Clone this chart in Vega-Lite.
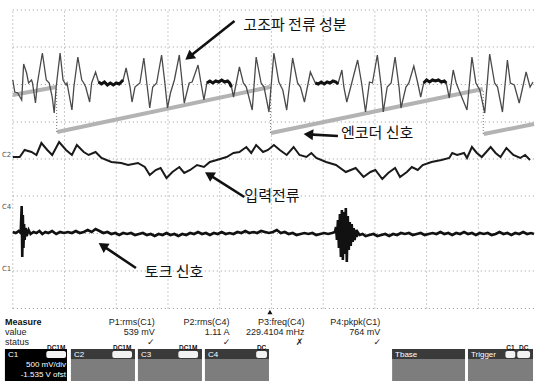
{
"$schema": "https://vega.github.io/schema/vega-lite/v6.json",
"width": 542, "height": 383, "padding": 0,
"autosize": {"type": "fit", "contains": "padding"},
"background": "white",
"config": {"view": {"stroke": null}},
"datasets": {
"grid_v": [{"t":0,"v":-18.5,"v2":280},{"t":52.5,"v":-18.5,"v2":280},{"t":105,"v":-18.5,"v2":280},{"t":157.5,"v":-18.5,"v2":280},{"t":210,"v":-18.5,"v2":280},{"t":262.5,"v":-18.5,"v2":280},{"t":315,"v":-18.5,"v2":280},{"t":367.5,"v":-18.5,"v2":280},{"t":420,"v":-18.5,"v2":280},{"t":472.5,"v":-18.5,"v2":280}],
"grid_h": [{"v":280,"t":0,"t2":529},{"v":243,"t":0,"t2":529},{"v":205.5,"t":0,"t2":529},{"v":168,"t":0,"t2":529},{"v":131,"t":0,"t2":529},{"v":94,"t":0,"t2":529},{"v":56.5,"t":0,"t2":529},{"v":19,"t":0,"t2":529},{"v":-18.5,"t":0,"t2":529}],
"enc": [{"seg":"A","t":0,"v":195},{"seg":"A","t":44,"v":203},{"seg":"B","t":45,"v":158},{"seg":"B","t":261,"v":203},{"seg":"C","t":262,"v":157},{"seg":"C","t":477,"v":201},{"seg":"D","t":478,"v":156},{"seg":"D","t":529,"v":166}],
"drops": [{"t":44.5,"v":158,"v2":203},{"t":261.5,"v":157,"v2":203},{"t":477.5,"v":156,"v2":201}],
"c1": [{"t":0,"v":210},{"t":2,"v":198},{"t":5,"v":197},{"t":9,"v":190},{"t":11,"v":226},{"t":14,"v":217},{"t":16,"v":207},{"t":19,"v":210},{"t":20,"v":207},{"t":23,"v":187},{"t":25,"v":207},{"t":30,"v":237},{"t":34,"v":210},{"t":37,"v":207},{"t":40,"v":193},{"t":42,"v":177},{"t":44,"v":203},{"t":48,"v":237},{"t":51,"v":210},{"t":54,"v":205},{"t":55,"v":207},{"t":60,"v":180},{"t":62,"v":203},{"t":66,"v":233},{"t":70,"v":210},{"t":72,"v":207},{"t":74,"v":203},{"t":78,"v":188},{"t":80,"v":207},{"t":84,"v":218},{"t":87,"v":208},{"t":90,"v":206},{"t":93,"v":208},{"t":96,"v":205},{"t":99,"v":207},{"t":102,"v":205},{"t":105,"v":207},{"t":108,"v":206},{"t":110,"v":208},{"t":112,"v":210},{"t":115,"v":222},{"t":119,"v":203},{"t":121,"v":188},{"t":124,"v":203},{"t":129,"v":207},{"t":133,"v":232},{"t":136,"v":207},{"t":139,"v":182},{"t":142,"v":203},{"t":146,"v":207},{"t":151,"v":235},{"t":154,"v":210},{"t":157,"v":182},{"t":160,"v":197},{"t":164,"v":210},{"t":169,"v":235},{"t":174,"v":187},{"t":179,"v":207},{"t":182,"v":208},{"t":188,"v":225},{"t":191,"v":207},{"t":194,"v":190},{"t":197,"v":207},{"t":200,"v":209},{"t":203,"v":207},{"t":206,"v":209},{"t":209,"v":208},{"t":212,"v":210},{"t":215,"v":208},{"t":218,"v":209},{"t":220,"v":207},{"t":222,"v":203},{"t":224,"v":193},{"t":230,"v":223},{"t":234,"v":207},{"t":237,"v":203},{"t":243,"v":180},{"t":247,"v":233},{"t":252,"v":207},{"t":255,"v":203},{"t":260,"v":178},{"t":265,"v":237},{"t":270,"v":208},{"t":274,"v":200},{"t":278,"v":180},{"t":284,"v":232},{"t":289,"v":207},{"t":292,"v":203},{"t":296,"v":188},{"t":302,"v":218},{"t":307,"v":207},{"t":310,"v":206},{"t":313,"v":208},{"t":316,"v":206},{"t":319,"v":208},{"t":322,"v":207},{"t":325,"v":209},{"t":328,"v":208},{"t":330,"v":206},{"t":334,"v":220},{"t":336,"v":203},{"t":339,"v":188},{"t":344,"v":207},{"t":350,"v":230},{"t":354,"v":207},{"t":358,"v":178},{"t":362,"v":208},{"t":365,"v":207},{"t":370,"v":235},{"t":374,"v":203},{"t":376,"v":178},{"t":380,"v":203},{"t":384,"v":207},{"t":388,"v":233},{"t":392,"v":203},{"t":394,"v":182},{"t":399,"v":203},{"t":402,"v":207},{"t":407,"v":224},{"t":411,"v":207},{"t":414,"v":193},{"t":417,"v":207},{"t":420,"v":210},{"t":423,"v":208},{"t":426,"v":210},{"t":429,"v":209},{"t":432,"v":210},{"t":435,"v":208},{"t":438,"v":209},{"t":440,"v":207},{"t":443,"v":192},{"t":447,"v":220},{"t":450,"v":207},{"t":454,"v":197},{"t":461,"v":180},{"t":466,"v":233},{"t":470,"v":207},{"t":474,"v":200},{"t":479,"v":177},{"t":484,"v":236},{"t":489,"v":207},{"t":492,"v":203},{"t":497,"v":178},{"t":502,"v":230},{"t":505,"v":207},{"t":509,"v":205},{"t":514,"v":187},{"t":521,"v":218},{"t":525,"v":203},{"t":528,"v":208}],
"c2": [{"t":0,"v":133},{"t":7,"v":133},{"t":12,"v":140},{"t":19,"v":138},{"t":24,"v":135},{"t":29,"v":147},{"t":35,"v":140},{"t":40,"v":135},{"t":47,"v":148},{"t":54,"v":140},{"t":60,"v":135},{"t":65,"v":145},{"t":72,"v":138},{"t":77,"v":135},{"t":84,"v":138},{"t":90,"v":132},{"t":100,"v":128},{"t":110,"v":127},{"t":117,"v":125},{"t":127,"v":127},{"t":134,"v":123},{"t":139,"v":115},{"t":145,"v":120},{"t":150,"v":122},{"t":156,"v":112},{"t":162,"v":118},{"t":169,"v":123},{"t":174,"v":117},{"t":180,"v":120},{"t":187,"v":125},{"t":194,"v":123},{"t":200,"v":128},{"t":207,"v":130},{"t":217,"v":133},{"t":224,"v":137},{"t":230,"v":138},{"t":237,"v":143},{"t":242,"v":137},{"t":247,"v":145},{"t":254,"v":138},{"t":259,"v":140},{"t":265,"v":145},{"t":271,"v":140},{"t":278,"v":135},{"t":285,"v":143},{"t":291,"v":135},{"t":298,"v":133},{"t":303,"v":137},{"t":308,"v":132},{"t":318,"v":128},{"t":328,"v":125},{"t":338,"v":118},{"t":343,"v":120},{"t":348,"v":122},{"t":356,"v":113},{"t":363,"v":118},{"t":368,"v":120},{"t":375,"v":111},{"t":381,"v":117},{"t":388,"v":122},{"t":393,"v":113},{"t":400,"v":118},{"t":405,"v":123},{"t":411,"v":120},{"t":416,"v":125},{"t":425,"v":128},{"t":435,"v":130},{"t":443,"v":132},{"t":446,"v":137},{"t":451,"v":135},{"t":458,"v":137},{"t":461,"v":132},{"t":466,"v":143},{"t":471,"v":137},{"t":476,"v":133},{"t":485,"v":143},{"t":490,"v":137},{"t":495,"v":133},{"t":501,"v":142},{"t":508,"v":135},{"t":515,"v":132},{"t":520,"v":135},{"t":525,"v":130}],
"c4": [{"t":0,"v":58},{"t":3,"v":57},{"t":6,"v":59},{"t":8,"v":57},{"t":9,"v":84},{"t":9.6,"v":33},{"t":10.2,"v":75},{"t":10.8,"v":42},{"t":11.4,"v":66},{"t":12,"v":50},{"t":13,"v":62},{"t":14,"v":54},{"t":16,"v":60},{"t":18,"v":56},{"t":21,"v":58},{"t":24,"v":57},{"t":27,"v":59},{"t":30,"v":56},{"t":33,"v":58},{"t":36,"v":57},{"t":40,"v":59},{"t":44,"v":56},{"t":48,"v":58},{"t":52,"v":57},{"t":56,"v":58},{"t":60,"v":57},{"t":64,"v":59},{"t":68,"v":57},{"t":72,"v":58},{"t":76,"v":60},{"t":80,"v":58},{"t":84,"v":61},{"t":88,"v":59},{"t":92,"v":57},{"t":96,"v":58},{"t":100,"v":56},{"t":104,"v":57},{"t":108,"v":55},{"t":112,"v":57},{"t":116,"v":56},{"t":120,"v":57},{"t":124,"v":55},{"t":128,"v":56},{"t":132,"v":57},{"t":136,"v":55},{"t":140,"v":56},{"t":144,"v":54},{"t":148,"v":56},{"t":152,"v":55},{"t":156,"v":57},{"t":160,"v":55},{"t":164,"v":56},{"t":168,"v":54},{"t":172,"v":56},{"t":176,"v":55},{"t":180,"v":57},{"t":184,"v":56},{"t":188,"v":58},{"t":192,"v":56},{"t":196,"v":57},{"t":200,"v":55},{"t":204,"v":57},{"t":208,"v":56},{"t":212,"v":58},{"t":216,"v":56},{"t":220,"v":57},{"t":224,"v":56},{"t":228,"v":58},{"t":232,"v":57},{"t":236,"v":59},{"t":240,"v":57},{"t":244,"v":58},{"t":248,"v":57},{"t":252,"v":59},{"t":256,"v":58},{"t":260,"v":57},{"t":264,"v":58},{"t":268,"v":60},{"t":272,"v":57},{"t":276,"v":58},{"t":280,"v":56},{"t":284,"v":57},{"t":288,"v":55},{"t":292,"v":56},{"t":296,"v":57},{"t":300,"v":56},{"t":304,"v":57},{"t":308,"v":55},{"t":312,"v":56},{"t":316,"v":57},{"t":320,"v":56},{"t":324,"v":57},{"t":327,"v":58},{"t":328,"v":63},{"t":329,"v":50},{"t":330,"v":70},{"t":331,"v":42},{"t":332,"v":76},{"t":333,"v":33},{"t":334,"v":80},{"t":335,"v":30},{"t":336,"v":78},{"t":337,"v":36},{"t":338,"v":82},{"t":339,"v":28},{"t":340,"v":74},{"t":341,"v":40},{"t":342,"v":68},{"t":343,"v":44},{"t":344,"v":66},{"t":345,"v":48},{"t":346,"v":62},{"t":347,"v":50},{"t":348,"v":60},{"t":349,"v":53},{"t":350,"v":58},{"t":352,"v":55},{"t":355,"v":56},{"t":358,"v":54},{"t":362,"v":55},{"t":366,"v":56},{"t":370,"v":54},{"t":374,"v":55},{"t":378,"v":56},{"t":382,"v":54},{"t":386,"v":56},{"t":390,"v":55},{"t":394,"v":57},{"t":398,"v":56},{"t":402,"v":57},{"t":406,"v":55},{"t":410,"v":56},{"t":414,"v":57},{"t":418,"v":55},{"t":422,"v":56},{"t":426,"v":57},{"t":430,"v":56},{"t":434,"v":58},{"t":438,"v":56},{"t":442,"v":57},{"t":446,"v":55},{"t":450,"v":57},{"t":454,"v":56},{"t":458,"v":58},{"t":462,"v":56},{"t":466,"v":57},{"t":470,"v":55},{"t":474,"v":57},{"t":478,"v":56},{"t":482,"v":57},{"t":486,"v":55},{"t":490,"v":56},{"t":494,"v":58},{"t":498,"v":56},{"t":502,"v":57},{"t":506,"v":55},{"t":510,"v":57},{"t":514,"v":56},{"t":518,"v":58},{"t":522,"v":56},{"t":526,"v":57},{"t":529,"v":56}],
"chlabels": [{"label":"C2","t":-11,"v":135},{"label":"C4","t":-11,"v":83},{"label":"C1","t":-11,"v":21}],
"arrows": [{"id":"a1","t":225,"v":269,"t2":178.9,"v2":233.1},{"id":"a2","t":330,"v":154,"t2":300,"v2":155.6},{"id":"a3","t":235,"v":93,"t2":199.2,"v2":115.35},{"id":"a4","t":125,"v":22,"t2":91.2,"v2":44.3}],
"notes": [{"label":"고조파 전류 성분","t":234,"v":265},{"label":"엔코더 신호","t":333,"v":157},{"label":"입력전류","t":235,"v":94},{"label":"토크 신호","t":134,"v":18}],
"trig": [{"t":261,"v":-22}],
"measure": [{"label":"Measure","t":-8,"v":-32}],
"rowlabels": [{"label":"value","t":-8,"v":-42},{"label":"status","t":-8,"v":-52}],
"cols": [{"label":"P1:rms(C1)","t":144,"v":-32},{"label":"539 mV","t":144,"v":-42},{"label":"P2:rms(C4)","t":220,"v":-32},{"label":"1.11 A","t":220,"v":-42},{"label":"P3:freq(C4)","t":296,"v":-32},{"label":"229.4104 mHz","t":296,"v":-42},{"label":"P4:pkpk(C1)","t":373,"v":-32},{"label":"764 mV","t":373,"v":-42}],
"status": [{"label":"✓","t":140,"v":-52},{"label":"✓","t":217,"v":-52},{"label":"✗","t":291,"v":-52},{"label":"✓","t":370,"v":-52}],
"box_c1": [{"t":-8,"t2":55,"v":-59,"v2":-91}],
"box_gray": [{"t":59,"t2":124,"v":-59,"v2":-91},{"t":127,"t2":192,"v":-59,"v2":-91},{"t":195,"t2":260,"v":-59,"v2":-91},{"t":385,"t2":459,"v":-59,"v2":-91},{"t":462,"t2":528,"v":-59,"v2":-91}],
"box_head": [{"t":59,"t2":124,"v":-59,"v2":-69},{"t":127,"t2":192,"v":-59,"v2":-69},{"t":195,"t2":260,"v":-59,"v2":-69},{"t":385,"t2":459,"v":-59,"v2":-69},{"t":462,"t2":528,"v":-59,"v2":-69}],
"badges": [{"label":"DC1M","t":34,"t2":54,"v":-61,"v2":-68},{"label":"DC1M","t":101,"t2":121,"v":-61,"v2":-68},{"label":"DC1M","t":168,"t2":188,"v":-61,"v2":-68},{"label":"DC","t":247,"t2":258,"v":-61,"v2":-68},{"label":"C1","t":500,"t2":510,"v":-61,"v2":-68},{"label":"DC","t":512,"t2":525,"v":-61,"v2":-68}],
"boxtext_l": [{"label":"C1","t":-5,"v":-64.5},{"label":"C2","t":62,"v":-64.5},{"label":"C3","t":130,"v":-64.5},{"label":"C4","t":198,"v":-64.5},{"label":"Tbase","t":388,"v":-64.5},{"label":"Trigger","t":465,"v":-64.5}],
"boxtext_r": [{"label":"500 mV/div","t":54,"v":-75},{"label":"-1.535 V ofst","t":54,"v":-85}]
},
"layer": [
{"data":{"name":"grid_v"},"mark":{"type":"rule","color":"#999999","strokeDash":[1,3],"strokeWidth":1},
 "encoding":{"x":{"field":"t","type":"quantitative","scale":{"domain":[-13,529],"nice":false,"zero":false},"axis":null},"y":{"field":"v","type":"quantitative","scale":{"domain":[-93,290],"nice":false,"zero":false},"axis":null},"y2":{"field":"v2"}}},
{"data":{"name":"grid_h"},"mark":{"type":"rule","color":"#999999","strokeDash":[1,3],"strokeWidth":1},
 "encoding":{"y":{"field":"v","type":"quantitative","scale":{"domain":[-93,290],"nice":false,"zero":false},"axis":null},"x":{"field":"t","type":"quantitative","scale":{"domain":[-13,529],"nice":false,"zero":false},"axis":null},"x2":{"field":"t2"}}},
{"data":{"name":"enc"},"mark":{"type":"line","color":"#b3b3b3","strokeWidth":4},
 "encoding":{"x":{"field":"t","type":"quantitative","scale":{"domain":[-13,529],"nice":false,"zero":false},"axis":null},"y":{"field":"v","type":"quantitative","scale":{"domain":[-93,290],"nice":false,"zero":false},"axis":null},"detail":{"field":"seg"}}},
{"data":{"name":"drops"},"mark":{"type":"rule","color":"#777777","strokeDash":[1,2],"strokeWidth":1},
 "encoding":{"x":{"field":"t","type":"quantitative","scale":{"domain":[-13,529],"nice":false,"zero":false},"axis":null},"y":{"field":"v","type":"quantitative","scale":{"domain":[-93,290],"nice":false,"zero":false},"axis":null},"y2":{"field":"v2"}}},
{"data":{"name":"c1"},"mark":{"type":"line","color":"#4a4a4a","strokeWidth":1.3},
 "encoding":{"x":{"field":"t","type":"quantitative","scale":{"domain":[-13,529],"nice":false,"zero":false},"axis":null},"y":{"field":"v","type":"quantitative","scale":{"domain":[-93,290],"nice":false,"zero":false},"axis":null}}},
{"data":{"name":"c1"},"transform":[{"filter":"datum.t >= 87 && datum.t <= 112"}],"mark":{"type":"line","color":"#111111","strokeWidth":3},
 "encoding":{"x":{"field":"t","type":"quantitative","scale":{"domain":[-13,529],"nice":false,"zero":false},"axis":null},"y":{"field":"v","type":"quantitative","scale":{"domain":[-93,290],"nice":false,"zero":false},"axis":null}}},
{"data":{"name":"c1"},"transform":[{"filter":"datum.t >= 197 && datum.t <= 222"}],"mark":{"type":"line","color":"#111111","strokeWidth":3},
 "encoding":{"x":{"field":"t","type":"quantitative","scale":{"domain":[-13,529],"nice":false,"zero":false},"axis":null},"y":{"field":"v","type":"quantitative","scale":{"domain":[-93,290],"nice":false,"zero":false},"axis":null}}},
{"data":{"name":"c1"},"transform":[{"filter":"datum.t >= 307 && datum.t <= 330"}],"mark":{"type":"line","color":"#111111","strokeWidth":3},
 "encoding":{"x":{"field":"t","type":"quantitative","scale":{"domain":[-13,529],"nice":false,"zero":false},"axis":null},"y":{"field":"v","type":"quantitative","scale":{"domain":[-93,290],"nice":false,"zero":false},"axis":null}}},
{"data":{"name":"c1"},"transform":[{"filter":"datum.t >= 417 && datum.t <= 440"}],"mark":{"type":"line","color":"#111111","strokeWidth":3},
 "encoding":{"x":{"field":"t","type":"quantitative","scale":{"domain":[-13,529],"nice":false,"zero":false},"axis":null},"y":{"field":"v","type":"quantitative","scale":{"domain":[-93,290],"nice":false,"zero":false},"axis":null}}},
{"data":{"name":"c2"},"mark":{"type":"line","color":"#1a1a1a","strokeWidth":2},
 "encoding":{"x":{"field":"t","type":"quantitative","scale":{"domain":[-13,529],"nice":false,"zero":false},"axis":null},"y":{"field":"v","type":"quantitative","scale":{"domain":[-93,290],"nice":false,"zero":false},"axis":null}}},
{"data":{"name":"c4"},"mark":{"type":"line","color":"#111111","strokeWidth":2.6},
 "encoding":{"x":{"field":"t","type":"quantitative","scale":{"domain":[-13,529],"nice":false,"zero":false},"axis":null},"y":{"field":"v","type":"quantitative","scale":{"domain":[-93,290],"nice":false,"zero":false},"axis":null}}},
{"data":{"name":"chlabels"},"mark":{"type":"text","font":"DejaVu Sans","fontSize":7,"color":"#555555","align":"left","baseline":"middle"},
 "encoding":{"x":{"field":"t","type":"quantitative","scale":{"domain":[-13,529],"nice":false,"zero":false},"axis":null},"y":{"field":"v","type":"quantitative","scale":{"domain":[-93,290],"nice":false,"zero":false},"axis":null},"text":{"field":"label"}}},
{"data":{"name":"arrows"},"mark":{"type":"rule","color":"#111111","strokeWidth":2.6},
 "encoding":{"x":{"field":"t","type":"quantitative","scale":{"domain":[-13,529],"nice":false,"zero":false},"axis":null},"y":{"field":"v","type":"quantitative","scale":{"domain":[-93,290],"nice":false,"zero":false},"axis":null},"x2":{"field":"t2"},"y2":{"field":"v2"}}},
{"data":{"name":"arrows"},"transform":[{"filter":"datum.id == 'a1'"}],"mark":{"type":"point","shape":"triangle-up","filled":true,"color":"#111111","size":120,"angle":232,"opacity":1},
 "encoding":{"x":{"field":"t2","type":"quantitative","scale":{"domain":[-13,529],"nice":false,"zero":false},"axis":null},"y":{"field":"v2","type":"quantitative","scale":{"domain":[-93,290],"nice":false,"zero":false},"axis":null}}},
{"data":{"name":"arrows"},"transform":[{"filter":"datum.id == 'a2'"}],"mark":{"type":"point","shape":"triangle-up","filled":true,"color":"#111111","size":120,"angle":275,"opacity":1},
 "encoding":{"x":{"field":"t2","type":"quantitative","scale":{"domain":[-13,529],"nice":false,"zero":false},"axis":null},"y":{"field":"v2","type":"quantitative","scale":{"domain":[-93,290],"nice":false,"zero":false},"axis":null}}},
{"data":{"name":"arrows"},"transform":[{"filter":"datum.id == 'a3'"}],"mark":{"type":"point","shape":"triangle-up","filled":true,"color":"#111111","size":120,"angle":302,"opacity":1},
 "encoding":{"x":{"field":"t2","type":"quantitative","scale":{"domain":[-13,529],"nice":false,"zero":false},"axis":null},"y":{"field":"v2","type":"quantitative","scale":{"domain":[-93,290],"nice":false,"zero":false},"axis":null}}},
{"data":{"name":"arrows"},"transform":[{"filter":"datum.id == 'a4'"}],"mark":{"type":"point","shape":"triangle-up","filled":true,"color":"#111111","size":120,"angle":303,"opacity":1},
 "encoding":{"x":{"field":"t2","type":"quantitative","scale":{"domain":[-13,529],"nice":false,"zero":false},"axis":null},"y":{"field":"v2","type":"quantitative","scale":{"domain":[-93,290],"nice":false,"zero":false},"axis":null}}},
{"data":{"name":"notes"},"mark":{"type":"text","font":"Noto Sans CJK KR","fontSize":15,"color":"#111111","align":"left","baseline":"middle"},
 "encoding":{"x":{"field":"t","type":"quantitative","scale":{"domain":[-13,529],"nice":false,"zero":false},"axis":null},"y":{"field":"v","type":"quantitative","scale":{"domain":[-93,290],"nice":false,"zero":false},"axis":null},"text":{"field":"label"}}},
{"data":{"name":"trig"},"mark":{"type":"point","shape":"triangle-up","filled":true,"color":"#111111","size":25,"opacity":1},
 "encoding":{"x":{"field":"t","type":"quantitative","scale":{"domain":[-13,529],"nice":false,"zero":false},"axis":null},"y":{"field":"v","type":"quantitative","scale":{"domain":[-93,290],"nice":false,"zero":false},"axis":null}}},
{"data":{"name":"measure"},"mark":{"type":"text","font":"Liberation Sans","fontSize":9,"fontWeight":"bold","color":"#111111","align":"left","baseline":"middle"},
 "encoding":{"x":{"field":"t","type":"quantitative","scale":{"domain":[-13,529],"nice":false,"zero":false},"axis":null},"y":{"field":"v","type":"quantitative","scale":{"domain":[-93,290],"nice":false,"zero":false},"axis":null},"text":{"field":"label"}}},
{"data":{"name":"rowlabels"},"mark":{"type":"text","font":"Liberation Sans","fontSize":9,"color":"#222222","align":"left","baseline":"middle"},
 "encoding":{"x":{"field":"t","type":"quantitative","scale":{"domain":[-13,529],"nice":false,"zero":false},"axis":null},"y":{"field":"v","type":"quantitative","scale":{"domain":[-93,290],"nice":false,"zero":false},"axis":null},"text":{"field":"label"}}},
{"data":{"name":"cols"},"mark":{"type":"text","font":"Liberation Sans","fontSize":9,"color":"#222222","align":"right","baseline":"middle"},
 "encoding":{"x":{"field":"t","type":"quantitative","scale":{"domain":[-13,529],"nice":false,"zero":false},"axis":null},"y":{"field":"v","type":"quantitative","scale":{"domain":[-93,290],"nice":false,"zero":false},"axis":null},"text":{"field":"label"}}},
{"data":{"name":"status"},"mark":{"type":"text","font":"DejaVu Sans","fontSize":9,"fontWeight":"bold","color":"#222222","align":"center","baseline":"middle"},
 "encoding":{"x":{"field":"t","type":"quantitative","scale":{"domain":[-13,529],"nice":false,"zero":false},"axis":null},"y":{"field":"v","type":"quantitative","scale":{"domain":[-93,290],"nice":false,"zero":false},"axis":null},"text":{"field":"label"}}},
{"data":{"name":"box_c1"},"mark":{"type":"rect","color":"#000000"},
 "encoding":{"x":{"field":"t","type":"quantitative","scale":{"domain":[-13,529],"nice":false,"zero":false},"axis":null},"x2":{"field":"t2"},"y":{"field":"v","type":"quantitative","scale":{"domain":[-93,290],"nice":false,"zero":false},"axis":null},"y2":{"field":"v2"}}},
{"data":{"name":"box_gray"},"mark":{"type":"rect","color":"#7d7d7d"},
 "encoding":{"x":{"field":"t","type":"quantitative","scale":{"domain":[-13,529],"nice":false,"zero":false},"axis":null},"x2":{"field":"t2"},"y":{"field":"v","type":"quantitative","scale":{"domain":[-93,290],"nice":false,"zero":false},"axis":null},"y2":{"field":"v2"}}},
{"data":{"name":"box_head"},"mark":{"type":"rect","color":"#3a3a3a"},
 "encoding":{"x":{"field":"t","type":"quantitative","scale":{"domain":[-13,529],"nice":false,"zero":false},"axis":null},"x2":{"field":"t2"},"y":{"field":"v","type":"quantitative","scale":{"domain":[-93,290],"nice":false,"zero":false},"axis":null},"y2":{"field":"v2"}}},
{"data":{"name":"badges"},"mark":{"type":"rect","color":"#f2f2f2","cornerRadius":2},
 "encoding":{"x":{"field":"t","type":"quantitative","scale":{"domain":[-13,529],"nice":false,"zero":false},"axis":null},"x2":{"field":"t2"},"y":{"field":"v","type":"quantitative","scale":{"domain":[-93,290],"nice":false,"zero":false},"axis":null},"y2":{"field":"v2"}}},
{"data":{"name":"badges"},"transform":[{"calculate":"(datum.t + datum.t2) / 2","as":"tc"}],"mark":{"type":"text","font":"Liberation Sans","fontSize":6.5,"fontWeight":"bold","color":"#111111","align":"center","baseline":"middle","dy":-3.5},
 "encoding":{"x":{"field":"tc","type":"quantitative","scale":{"domain":[-13,529],"nice":false,"zero":false},"axis":null},"y":{"field":"v","type":"quantitative","scale":{"domain":[-93,290],"nice":false,"zero":false},"axis":null},"text":{"field":"label"}}},
{"data":{"name":"boxtext_l"},"mark":{"type":"text","font":"Liberation Sans","fontSize":8,"color":"#ffffff","align":"left","baseline":"middle"},
 "encoding":{"x":{"field":"t","type":"quantitative","scale":{"domain":[-13,529],"nice":false,"zero":false},"axis":null},"y":{"field":"v","type":"quantitative","scale":{"domain":[-93,290],"nice":false,"zero":false},"axis":null},"text":{"field":"label"}}},
{"data":{"name":"boxtext_r"},"mark":{"type":"text","font":"Liberation Sans","fontSize":8,"color":"#ffffff","align":"right","baseline":"middle"},
 "encoding":{"x":{"field":"t","type":"quantitative","scale":{"domain":[-13,529],"nice":false,"zero":false},"axis":null},"y":{"field":"v","type":"quantitative","scale":{"domain":[-93,290],"nice":false,"zero":false},"axis":null},"text":{"field":"label"}}}
]
}
